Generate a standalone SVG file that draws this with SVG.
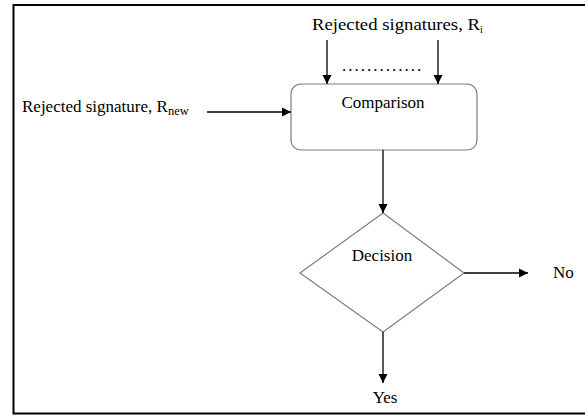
<svg xmlns="http://www.w3.org/2000/svg" width="585" height="416" viewBox="0 0 585 416">
<style>
text{font-family:"Liberation Serif","Times New Roman",serif;font-size:17px;fill:#000}
.c{stroke:#000;stroke-width:1.3;fill:none}
.n{fill:#fff;stroke:#7f7f7f;stroke-width:1.2}
</style>
<defs>
<marker id="ah" markerWidth="10" markerHeight="10" refX="9" refY="5" orient="auto" markerUnits="userSpaceOnUse">
<path d="M0,0.5 L9,5 L0,9.5 Z" fill="#000"/>
</marker>
</defs>
<rect x="13.5" y="5" width="580" height="408.5" fill="#fff" stroke="#000" stroke-width="2"/>
<g id="labels">
<text x="312" y="30"><tspan textLength="168" lengthAdjust="spacingAndGlyphs">Rejected signatures, R</tspan><tspan font-size="10" dy="3">i</tspan></text>
<text x="22" y="112">Rejected signature, R<tspan font-size="12.5" dy="3">new</tspan></text>
<text x="342" y="71" letter-spacing="2">.............</text>
</g>
<g id="comparison">
<rect class="n" x="291" y="84" width="186" height="66" rx="10"/>
<text x="383" y="108" text-anchor="middle">Comparison</text>
</g>
<g id="decision">
<polygon class="n" points="383,213 464,273 383,332 300,273"/>
<text x="382" y="261" text-anchor="middle">Decision</text>
</g>
<g id="no"><text x="553" y="278">No</text></g>
<g id="yes"><text x="385" y="403" text-anchor="middle">Yes</text></g>
<g id="connectors">
<line class="c" x1="327" y1="40" x2="327" y2="84" marker-end="url(#ah)"/>
<line class="c" x1="438" y1="40" x2="438" y2="84" marker-end="url(#ah)"/>
<line class="c" x1="207" y1="112" x2="291" y2="112" marker-end="url(#ah)"/>
<line class="c" x1="383" y1="150" x2="383" y2="213" marker-end="url(#ah)"/>
<line class="c" x1="464" y1="273" x2="528" y2="273" marker-end="url(#ah)"/>
<line class="c" x1="383" y1="332" x2="383" y2="383" marker-end="url(#ah)"/>
</g>
</svg>
